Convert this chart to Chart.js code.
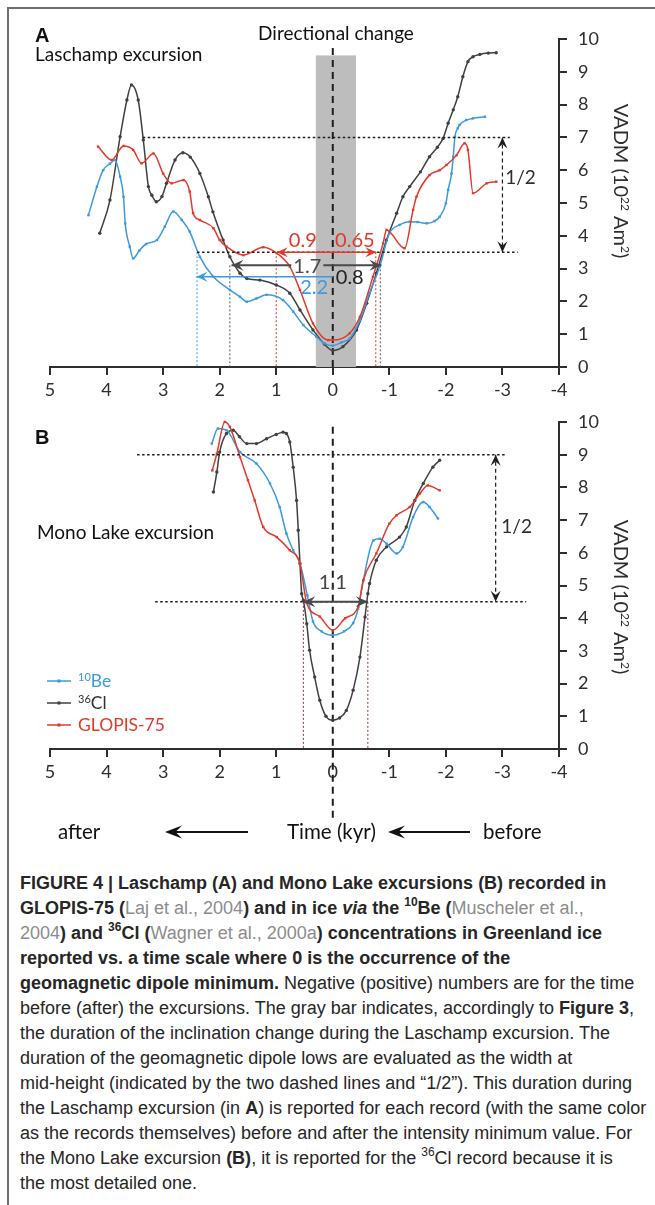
<!DOCTYPE html>
<html>
<head>
<meta charset="utf-8">
<script src="https://cdn.jsdelivr.net/npm/chart.js@4.4.1/dist/chart.umd.min.js"></script>
<style>
  body { margin: 0; background: #fff; width: 655px; height: 1205px; overflow: hidden; position: relative; }
  #frame { position: absolute; left: 7px; top: 7px; width: 700px; height: 1250px;
           border-left: 2px solid #6e6e6e; border-top: 2px solid #6e6e6e; }
  canvas { position: absolute; left: 0; }
  #chartA { top: 0; }
  #chartB { top: 400px; }
  #caption { position: absolute; left: 20px; top: 871px; white-space: nowrap;
             font: 18px/25px "Liberation Sans Narrow", "Arial Narrow", "Liberation Sans", sans-serif; color: #262626; }
  #caption .ref { color: #8c8c8c; font-weight: normal; }
  #caption sup { font-size: 12px; line-height: 0; position: relative; top: -1px; }
</style>
</head>
<body>
<div id="frame"></div>
<canvas id="chartA" width="655" height="400"></canvas>
<canvas id="chartB" width="655" height="450"></canvas>
<div id="caption">
<b>FIGURE 4 | Laschamp (A) and Mono Lake excursions (B) recorded in</b><br>
<b>GLOPIS-75 (<span class="ref">Laj et al., 2004</span>) and in ice <i>via</i> the <sup>10</sup>Be (<span class="ref">Muscheler et al.,</span></b><br>
<b><span class="ref">2004</span>) and <sup>36</sup>Cl (<span class="ref">Wagner et al., 2000a</span>) concentrations in Greenland ice</b><br>
<b>reported vs. a time scale where 0 is the occurrence of the</b><br>
<b>geomagnetic dipole minimum.</b> Negative (positive) numbers are for the time<br>
before (after) the excursions. The gray bar indicates, accordingly to <b>Figure 3</b>,<br>
the duration of the inclination change during the Laschamp excursion. The<br>
duration of the geomagnetic dipole lows are evaluated as the width at<br>
mid-height (indicated by the two dashed lines and “1/2”). This duration during<br>
the Laschamp excursion (in <b>A</b>) is reported for each record (with the same color<br>
as the records themselves) before and after the intensity minimum value. For<br>
the Mono Lake excursion <b>(B)</b>, it is reported for the <sup>36</sup>Cl record because it is<br>
the most detailed one.
</div>
<script>
// axis ticks (time in kyr, VADM in 10^22 Am^2)
const TIME_TICKS = [5, 4, 3, 2, 1, 0, -1, -2, -3, -4];
const VADM_TICKS = [0, 1, 2, 3, 4, 5, 6, 7, 8, 9, 10];
const SERIES = ['10Be', '36Cl', 'GLOPIS-75'];

// A - Laschamp excursion
const A_BE_T = [4.32, 4.17, 4.06, 3.94, 3.85, 3.76, 3.7, 3.67, 3.59, 3.53, 3.42, 3.3, 3.11, 2.97, 2.82, 2.67, 2.53, 2.35, 2.11, 1.82, 1.64, 1.52, 1.35, 1.17, 0.88, 0.7, 0.52, 0.29, 0.15, 0.0, -0.15, -0.3, -0.48, -0.65, -0.83, -1.0, -1.18, -1.36, -1.5, -1.66, -1.8, -1.89, -2.0, -2.04, -2.1, -2.13, -2.16, -2.21, -2.24, -2.36, -2.48, -2.69];
const A_BE_V = [4.63, 5.5, 6.0, 6.2, 6.31, 5.8, 5.19, 4.38, 3.67, 3.31, 3.55, 3.75, 3.87, 4.28, 4.74, 4.48, 4.13, 3.36, 2.75, 2.35, 2.14, 1.99, 2.09, 2.2, 2.04, 1.69, 1.28, 0.92, 0.72, 0.65, 0.75, 0.87, 1.43, 2.25, 3.06, 4.07, 4.33, 4.43, 4.42, 4.38, 4.45, 4.58, 4.99, 5.4, 5.9, 6.41, 7.02, 7.28, 7.38, 7.53, 7.58, 7.63];
const A_CL_T = [4.12, 3.94, 3.76, 3.64, 3.56, 3.44, 3.35, 3.26, 3.2, 3.12, 3.02, 2.94, 2.79, 2.65, 2.52, 2.35, 2.2, 2.12, 1.94, 1.82, 1.64, 1.52, 1.29, 1.0, 0.76, 0.58, 0.35, 0.15, 0.0, -0.18, -0.42, -0.6, -0.77, -0.95, -1.13, -1.24, -1.36, -1.55, -1.71, -1.85, -1.95, -2.04, -2.13, -2.21, -2.3, -2.39, -2.48, -2.6, -2.75, -2.89];
const A_CL_V = [4.08, 5.09, 7.02, 8.14, 8.6, 8.14, 6.92, 5.5, 5.24, 5.04, 5.2, 5.6, 6.31, 6.53, 6.4, 5.9, 5.19, 4.73, 3.87, 3.36, 2.86, 2.7, 2.65, 2.5, 2.25, 1.74, 1.13, 0.7, 0.5, 0.62, 1.13, 1.94, 2.86, 3.87, 4.69, 5.19, 5.5, 5.95, 6.41, 6.7, 6.97, 7.43, 7.84, 8.24, 8.85, 9.31, 9.46, 9.53, 9.57, 9.58];
const A_GL_T = [4.15, 3.91, 3.7, 3.53, 3.38, 3.17, 3.0, 2.85, 2.64, 2.53, 2.47, 2.35, 2.11, 2.0, 1.88, 1.58, 1.23, 0.99, 0.76, 0.58, 0.35, 0.08, 0.0, -0.3, -0.48, -0.71, -0.89, -0.95, -1.27, -1.42, -1.48, -1.71, -1.89, -2.01, -2.19, -2.33, -2.39, -2.48, -2.72, -2.89];
const A_GL_V = [6.72, 6.31, 6.74, 6.62, 6.21, 6.51, 5.9, 5.6, 5.7, 5.35, 4.69, 4.48, 4.23, 3.87, 3.67, 3.41, 3.65, 3.47, 3.06, 2.35, 1.33, 0.82, 0.82, 1.03, 1.53, 2.75, 3.77, 4.18, 3.62, 4.79, 5.19, 5.85, 6.0, 6.16, 6.46, 6.82, 6.62, 5.3, 5.6, 5.65];

// B - Mono Lake excursion
const B_BE_T = [2.14, 2.03, 1.88, 1.64, 1.35, 1.11, 0.94, 0.82, 0.7, 0.58, 0.45, 0.35, 0.2, 0.0, -0.2, -0.36, -0.45, -0.54, -0.72, -0.83, -0.95, -1.13, -1.24, -1.42, -1.6, -1.71, -1.86];
const B_BE_V = [9.34, 9.8, 9.75, 9.08, 8.73, 8.12, 7.4, 6.59, 6.08, 5.67, 4.7, 3.9, 3.6, 3.48, 3.6, 3.85, 4.3, 5.16, 6.38, 6.43, 6.28, 5.98, 6.18, 7.09, 7.55, 7.4, 7.05];
const B_CL_T = [2.11, 2.05, 2.0, 1.88, 1.76, 1.65, 1.52, 1.35, 1.17, 1.0, 0.88, 0.82, 0.76, 0.7, 0.64, 0.61, 0.58, 0.55, 0.52, 0.46, 0.41, 0.32, 0.23, 0.12, 0.0, -0.12, -0.24, -0.36, -0.48, -0.57, -0.62, -0.65, -0.77, -0.95, -1.18, -1.3, -1.45, -1.6, -1.77, -1.89];
const B_CL_V = [7.86, 8.47, 9.08, 9.65, 9.75, 9.55, 9.34, 9.34, 9.49, 9.62, 9.69, 9.65, 9.39, 8.62, 7.6, 6.69, 5.67, 4.75, 4.55, 3.83, 3.02, 2.2, 1.49, 1.0, 0.88, 0.95, 1.18, 1.8, 2.81, 4.04, 4.75, 5.06, 5.77, 6.18, 6.48, 6.79, 7.6, 8.12, 8.62, 8.83];
const B_GL_T = [2.13, 2.05, 1.91, 1.82, 1.64, 1.5, 1.38, 1.23, 0.99, 0.76, 0.58, 0.46, 0.23, 0.0, -0.22, -0.45, -0.54, -0.77, -1.0, -1.13, -1.36, -1.54, -1.68, -1.89];
const B_GL_V = [8.52, 9.03, 10.0, 9.85, 8.93, 8.22, 7.6, 6.79, 6.48, 6.08, 5.67, 4.46, 4.05, 3.63, 4.0, 4.36, 5.16, 5.98, 6.89, 7.15, 7.4, 7.81, 8.06, 7.91];

const BLUE = '#3b9ae1';
const DARK = '#404040';
const RED = '#e4382b';
const INK = '#2e2e2e';
const FONT = 'Lato, "Open Sans", sans-serif';

function pairs(t, v) {
    return t.map((x, i) => ({ x: x, y: v[i] }));
}

function series(label, t, v, color, style) {
    return {
        label: label,
        data: pairs(t, v),
        showLine: true,
        borderColor: color,
        backgroundColor: color,
        borderWidth: 1.5,
        pointRadius: 1.7,
        pointStyle: style,
        pointBorderWidth: 0,
        cubicInterpolationMode: 'monotone',
        clip: false
    };
}

// ---- drawing helpers for the annotations ----
function pos(chart, x, y) {
    return { x: chart.scales.x.getPixelForValue(x), y: chart.scales.y.getPixelForValue(y) };
}

function seg(ctx, a, b, color, width, dash) {
    ctx.save();
    ctx.strokeStyle = color;
    ctx.lineWidth = width;
    ctx.setLineDash(dash || []);
    ctx.beginPath();
    ctx.moveTo(a.x, a.y);
    ctx.lineTo(b.x, b.y);
    ctx.stroke();
    ctx.restore();
}

function head(ctx, tip, from, color, len, wid) {
    var ang = Math.atan2(tip.y - from.y, tip.x - from.x);
    ctx.save();
    ctx.translate(tip.x, tip.y);
    ctx.rotate(ang);
    ctx.fillStyle = color;
    ctx.beginPath();
    ctx.moveTo(0, 0);
    ctx.lineTo(-len, -wid / 2);
    ctx.lineTo(-len * 0.62, 0);
    ctx.lineTo(-len, wid / 2);
    ctx.closePath();
    ctx.fill();
    ctx.restore();
}

function rich(ctx, parts, x, y, size, color, align, weight, family) {
    var big = (weight || 'normal') + ' ' + size + 'px ' + (family || FONT);
    var small = (weight || 'normal') + ' ' + Math.round(size * 0.62) + 'px ' + (family || FONT);
    var w = 0;
    parts.forEach(p => { ctx.font = p.sup ? small : big; w += ctx.measureText(p.t).width; });
    var cx = align === 'center' ? x - w / 2 : (align === 'right' ? x - w : x);
    ctx.fillStyle = color;
    ctx.textAlign = 'left';
    ctx.textBaseline = 'alphabetic';
    parts.forEach(p => {
        ctx.font = p.sup ? small : big;
        ctx.fillText(p.t, cx, p.sup ? y - size * 0.36 : y);
        cx += ctx.measureText(p.t).width;
    });
    return w;
}

function drawItems(chart, items) {
    var ctx = chart.ctx;
    items.forEach(it => {
        if (it.type === 'band') {
            var a = pos(chart, it.x0, it.y1), b = pos(chart, it.x1, it.y0);
            ctx.fillStyle = it.color;
            ctx.fillRect(Math.min(a.x, b.x), a.y, Math.abs(b.x - a.x), b.y - a.y);
        } else if (it.type === 'line') {
            seg(ctx, pos(chart, it.x0, it.y0), pos(chart, it.x1, it.y1), it.color, it.width, it.dash);
        } else if (it.type === 'arrow') {
            var p0 = pos(chart, it.x0, it.y0), p1 = pos(chart, it.x1, it.y1);
            if (it.gap) {
                // leave room for a label sitting on the line
                ctx.font = it.gap.size + 'px ' + FONT;
                var g = pos(chart, it.gap.x, it.y0);
                var half = ctx.measureText(it.gap.text).width / 2 + 2;
                seg(ctx, p0, { x: g.x - half, y: g.y }, it.color, it.width, it.dash);
                seg(ctx, { x: g.x + half, y: g.y }, p1, it.color, it.width, it.dash);
                ctx.fillStyle = it.color;
                ctx.textAlign = 'center';
                ctx.textBaseline = 'middle';
                ctx.fillText(it.gap.text, g.x, g.y + 1);
            } else {
                seg(ctx, p0, p1, it.color, it.width, it.dash);
            }
            if (it.heads !== 'end') head(ctx, p0, p1, it.color, it.len, it.wid);
            head(ctx, p1, p0, it.color, it.len, it.wid);
        } else if (it.type === 'text') {
            var p = pos(chart, it.x, it.y);
            ctx.font = (it.weight || 'normal') + ' ' + it.size + 'px ' + FONT;
            ctx.fillStyle = it.color;
            ctx.textAlign = 'center';
            ctx.textBaseline = 'middle';
            ctx.fillText(it.text, p.x, p.y);
        }
    });
}

function annotator(under, over, extra) {
    return {
        id: 'annotator',
        beforeDatasetsDraw(chart) { drawItems(chart, under); },
        afterDatasetsDraw(chart) { drawItems(chart, over); extra(chart.ctx, chart); }
    };
}

function vadmTitle(ctx, cx, cy) {
    ctx.save();
    ctx.translate(cx, cy);
    ctx.rotate(Math.PI / 2);
    rich(ctx, [{ t: 'VADM (10' }, { t: '22', sup: true }, { t: ' Am' }, { t: '2', sup: true }, { t: ')' }], 0, 7, 20, INK, 'center');
    ctx.restore();
}

function scales(areaBottomPad) {
    var tickFont = { family: FONT, size: 18 };
    return {
        x: {
            type: 'linear', reverse: true, min: -4, max: 5,
            afterBuildTicks: s => { s.ticks = TIME_TICKS.map(v => ({ value: v })); },
            ticks: { color: INK, font: tickFont, padding: 4, maxRotation: 0, autoSkip: false },
            grid: { drawOnChartArea: false, tickLength: 8, color: INK, lineWidth: 2 },
            border: { color: INK, width: 2 },
            afterFit: s => { s.height = areaBottomPad; }
        },
        y: {
            type: 'linear', position: 'right', min: 0, max: 10,
            afterBuildTicks: s => { s.ticks = VADM_TICKS.map(v => ({ value: v })); },
            ticks: { color: INK, font: tickFont, padding: 11 },
            grid: { drawOnChartArea: false, tickLength: 8, color: INK, lineWidth: 2 },
            border: { color: INK, width: 2 },
            afterFit: s => { s.width = 96; }
        }
    };
}

// ---------------- chart A ----------------
var dot = [2.5, 2.5];
var annA_under = [
    { type: 'band', x0: 0.3, x1: -0.41, y0: 0, y1: 9.5, color: '#bdbdbd' },
    { type: 'line', x0: 0, y0: 0, x1: 0, y1: 9.78, color: '#1e1e1e', width: 2, dash: [7, 5] },
    { type: 'line', x0: 2.4, y0: 3.5, x1: 2.4, y1: 0, color: BLUE, width: 1, dash: [2, 2] },
    { type: 'line', x0: 1.82, y0: 3.1, x1: 1.82, y1: 0, color: '#555', width: 1, dash: [2, 2] },
    { type: 'line', x0: 1.0, y0: 3.5, x1: 1.0, y1: 0, color: RED, width: 1, dash: [2, 2] },
    { type: 'line', x0: -0.76, y0: 3.5, x1: -0.76, y1: 0, color: RED, width: 1, dash: [2, 2] },
    { type: 'line', x0: -0.84, y0: 3.1, x1: -0.84, y1: 0, color: '#555', width: 1, dash: [2, 2] }
];
var annA_over = [
    { type: 'line', x0: 3.36, y0: 7, x1: -3.13, y1: 7, color: '#1e1e1e', width: 1.5, dash: dot },
    { type: 'line', x0: 2.4, y0: 3.5, x1: -3.27, y1: 3.5, color: '#1e1e1e', width: 1.5, dash: dot },
    { type: 'arrow', x0: -3.0, y0: 7, x1: -3.0, y1: 3.5, color: '#1e1e1e', width: 1.2, dash: [4, 3], len: 11, wid: 10 },
    { type: 'text', x: -3.32, y: 5.76, text: '1/2', size: 19, color: INK },
    { type: 'arrow', x0: 0.99, y0: 3.5, x1: -0.77, y1: 3.5, color: RED, width: 1.6, len: 11, wid: 10 },
    { type: 'text', x: 0.53, y: 3.87, text: '0.9', size: 20, color: RED },
    { type: 'text', x: -0.39, y: 3.87, text: '0.65', size: 20, color: RED },
    { type: 'arrow', x0: 1.79, y0: 3.1, x1: -0.86, y1: 3.1, color: '#4a4a4a', width: 2, len: 12, wid: 11,
      gap: { x: 0.45, text: '1.7', size: 20 } },
    { type: 'text', x: -0.3, y: 2.72, text: '0.8', size: 20, color: '#222' },
    { type: 'arrow', x0: 0, y0: 2.75, x1: 2.41, y1: 2.75, heads: 'end', color: BLUE, width: 1.6, len: 11, wid: 10 },
    { type: 'text', x: 0.33, y: 2.42, text: '2.2', size: 20, color: BLUE }
];

new Chart(document.getElementById('chartA'), {
    type: 'scatter',
    data: {
        datasets: [
            series(SERIES[2], A_GL_T, A_GL_V, RED, 'rect'),
            series(SERIES[0], A_BE_T, A_BE_V, BLUE, 'rect'),
            series(SERIES[1], A_CL_T, A_CL_V, DARK, 'circle')
        ]
    },
    options: {
        responsive: false,
        animation: false,
        layout: { padding: { left: 50, top: 39, right: 0, bottom: 0 } },
        plugins: { legend: { display: false }, tooltip: { enabled: false } },
        scales: scales(33)
    },
    plugins: [annotator(annA_under, annA_over, function (ctx) {
        rich(ctx, [{ t: 'A' }], 35, 42, 20, '#111', 'left', 'bold', '"Liberation Sans", Arial, sans-serif');
        rich(ctx, [{ t: 'Laschamp excursion' }], 35, 61, 19, '#111', 'left');
        rich(ctx, [{ t: 'Directional change' }], 336, 40, 19, '#111', 'center');
        vadmTitle(ctx, 621, 181);
    })]
});

// ---------------- chart B ----------------
var annB_under = [
    { type: 'line', x0: 0.52, y0: 4.5, x1: 0.52, y1: 0, color: '#a0302a', width: 1, dash: [2, 2] },
    { type: 'line', x0: -0.62, y0: 4.5, x1: -0.62, y1: 0, color: '#a0302a', width: 1, dash: [2, 2] },
    { type: 'line', x0: 0, y0: -2.1, x1: 0, y1: 9.98, color: '#1e1e1e', width: 2, dash: [7, 5] }
];
var annB_over = [
    { type: 'line', x0: 3.46, y0: 9, x1: -3.07, y1: 9, color: '#1e1e1e', width: 1.5, dash: dot },
    { type: 'line', x0: 3.14, y0: 4.5, x1: -3.42, y1: 4.5, color: '#1e1e1e', width: 1.5, dash: dot },
    { type: 'arrow', x0: -2.88, y0: 9, x1: -2.88, y1: 4.5, color: '#1e1e1e', width: 1.2, dash: [4, 3], len: 11, wid: 10 },
    { type: 'text', x: -3.25, y: 6.8, text: '1/2', size: 19, color: INK },
    { type: 'arrow', x0: 0.52, y0: 4.5, x1: -0.62, y1: 4.5, color: '#4a4a4a', width: 2, len: 12, wid: 11 },
    { type: 'text', x: 0.0, y: 5.08, text: '1.1', size: 20, color: '#444' }
];

new Chart(document.getElementById('chartB'), {
    type: 'scatter',
    data: {
        datasets: [
            series(SERIES[2], B_GL_T, B_GL_V, RED, 'rect'),
            series(SERIES[0], B_BE_T, B_BE_V, BLUE, 'rect'),
            series(SERIES[1], B_CL_T, B_CL_V, DARK, 'circle')
        ]
    },
    options: {
        responsive: false,
        animation: false,
        layout: { padding: { left: 50, top: 22, right: 0, bottom: 0 } },
        plugins: { legend: { display: false }, tooltip: { enabled: false } },
        scales: scales(101)
    },
    plugins: [annotator(annB_under, annB_over, function (ctx, chart) {
        rich(ctx, [{ t: 'B' }], 35, 44, 20, '#111', 'left', 'bold', '"Liberation Sans", Arial, sans-serif');
        rich(ctx, [{ t: 'Mono Lake excursion' }], 37, 139, 19, '#111', 'left');
        vadmTitle(ctx, 621, 197);

        // legend, one row per record
        var rows = [
            { set: 1, y: 281, parts: [{ t: '10', sup: true }, { t: 'Be' }] },
            { set: 2, y: 303, parts: [{ t: '36', sup: true }, { t: 'Cl' }] },
            { set: 0, y: 325, parts: [{ t: SERIES[2] }] }
        ];
        rows.forEach(r => {
            var ds = chart.data.datasets[r.set];
            seg(ctx, { x: 47, y: r.y }, { x: 71, y: r.y }, ds.borderColor, 1.5);
            ctx.fillStyle = ds.borderColor;
            ctx.fillRect(57.5, r.y - 1.5, 3, 3);
            var col = r.set === 2 ? '#333' : ds.borderColor;
            rich(ctx, r.parts, 78, r.y + 6, 17.5, col, 'left');
        });

        // after <- Time (kyr) <- before
        rich(ctx, [{ t: 'after' }], 58, 439, 20.5, '#111', 'left');
        rich(ctx, [{ t: 'Time (kyr)' }], 287, 439, 20.5, '#111', 'left');
        rich(ctx, [{ t: 'before' }], 483, 439, 20.5, '#111', 'left');
        seg(ctx, { x: 248, y: 432 }, { x: 172, y: 432 }, '#111', 2);
        head(ctx, { x: 165, y: 432 }, { x: 248, y: 432 }, '#111', 17, 13);
        seg(ctx, { x: 470, y: 432 }, { x: 395, y: 432 }, '#111', 2);
        head(ctx, { x: 388, y: 432 }, { x: 470, y: 432 }, '#111', 17, 13);
    })]
});
</script>
</body>
</html>
